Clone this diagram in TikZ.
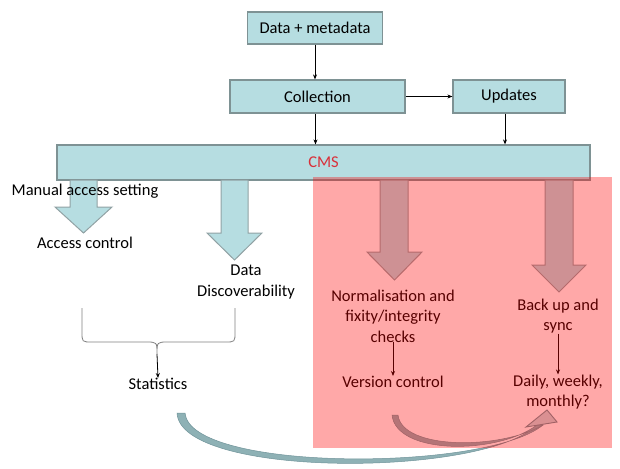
\documentclass[tikz,border=0pt]{standalone}
\usepackage{fontspec}
\setmainfont{Carlito}
\usetikzlibrary{arrows.meta}
\definecolor{boxfill}{HTML}{B6DDE1}
\definecolor{boxline}{HTML}{7E9294}
\definecolor{cmsred}{HTML}{D9303A}
\definecolor{curvefill}{HTML}{8EB1B5}
\definecolor{curveline}{HTML}{71949A}
\definecolor{headfill}{HTML}{C8DCDE}
\begin{document}
\begin{tikzpicture}[x=1pt,y=-1pt,
  box/.style={draw=boxline,line width=1.2pt,fill=boxfill,inner sep=0pt},
  lbl/.style={font=\fontsize{16.5}{20.5}\selectfont,align=center,inner sep=0pt},
  conn/.style={-{Stealth[length=5pt,width=4pt]},line width=0.8pt},
  barrow/.style={fill=boxfill,draw=boxline!85,line width=1pt},
  curvearrow/.style={fill=curvefill,draw=curveline,line width=0.5pt},
  headtip/.style={fill=headfill,draw=curveline,line width=0.9pt},
  bracel/.style={draw=gray,line width=0.8pt},
  overlay/.style={fill=red,fill opacity=0.34}]
\useasboundingbox (0,0) rectangle (620,468);

% top boxes
\node[box,lbl,minimum width=135pt,minimum height=32pt] (dm) at (315,28) {Data + metadata};
\node[box,lbl,minimum width=175pt,minimum height=33pt] (coll) at (317.5,96.5) {Collection};
\node[box,lbl,minimum width=112pt,minimum height=33pt] (upd) at (509,96.5) {Updates};
\node[box,lbl,text=cmsred,minimum width=533pt,minimum height=35pt] (cms) at (323.5,162.5) {CMS};

\draw[conn] (dm.south) -- (dm.south |- coll.north);
\draw[conn] (coll.east) -- (upd.west);
\draw[conn] ([xshift=-2pt]coll.south) -- ([xshift=-2pt]coll.south |- cms.north);
\draw[conn] ([xshift=-4pt]upd.south) -- ([xshift=-4pt]upd.south |- cms.north);

% block arrows
\draw[barrow] (70,180) -- (70,207) -- (55,207) -- (83.5,233) -- (112,207) -- (97,207) -- (97,180) -- cycle;
\draw[barrow] (221,180) -- (221,233) -- (207,233) -- (234.5,260) -- (262,233) -- (248,233) -- (248,180) -- cycle;
\draw[barrow] (380,180) -- (380,252) -- (367,252) -- (394.5,280) -- (422,252) -- (408,252) -- (408,180) -- cycle;
\draw[barrow] (545,180) -- (545,265) -- (532,265) -- (559,292) -- (586,265) -- (573,265) -- (573,180) -- cycle;

% texts
\node[lbl] (mas) at (85,191) {Manual access setting};
\node[lbl] (ac) at (85,243) {Access control};
\node[lbl] (dd) at (246,282) {Data\\Discoverability};
\node[lbl] (norm) at (393,316) {Normalisation and\\fixity/integrity\\checks};
\node[lbl] (bus) at (558,316) {Back up and\\sync};
\node[lbl] (vc) at (393,382) {Version control};
\node[lbl] (dwm) at (558,392) {Daily, weekly,\\monthly?};
\node[lbl] (stat) at (158,384) {Statistics};

\draw[conn] (norm.south) -- (vc.north);
\draw[conn] (bus.south) -- (bus.south |- dwm.north);

% brace
\coordinate (bm) at (157,354);
\draw[bracel] (82,308) -- (82,332) .. controls (82,342) .. (92,342) -- (146,342)
  .. controls (157,342) .. (bm) .. controls (157,342) .. (168,342) -- (225,342)
  .. controls (235,342) .. (235,332) -- (235,308);
\draw[conn] (bm) -- (stat.north);

% curved arrows
\draw[curvearrow] (177,413) .. controls (180,478) and (482,478) .. (537,425)
  -- (543,425) .. controls (486,472) and (190,472) .. (185,413) -- cycle;
\draw[curvearrow] (392,415) .. controls (396,455) and (497,455) .. (537,425)
  -- (543,425) .. controls (500,450) and (402,450) .. (398,415) -- cycle;
\coordinate (tipA) at (526,427);
\coordinate (tipC) at (547,410);
\coordinate (tipB) at (557,422);
\draw[headtip] (tipA) -- (tipC) -- (tipB) -- cycle;

% red overlay
\fill[overlay] (313,177) rectangle (612,448);
\end{tikzpicture}
\end{document}
